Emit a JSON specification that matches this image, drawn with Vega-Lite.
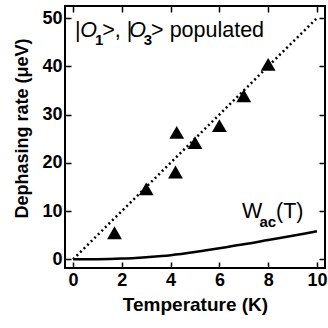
{
  "$schema": "https://vega.github.io/schema/vega-lite/v6.json",
  "width": 260,
  "height": 262,
  "autosize": "none",
  "padding": {"left": 65, "top": 6, "right": 3, "bottom": 60},
  "config": {
    "view": {"stroke": "black", "strokeWidth": 2},
    "font": "Liberation Sans",
    "axis": {
      "domain": false, "grid": false, "tickColor": "black", "tickWidth": 1.5,
      "tickSize": -6, "labelPadding": 9, "labelFont": "Liberation Sans",
      "labelFontWeight": "bold", "labelFontSize": 18, "labelColor": "black",
      "titleFont": "Liberation Sans", "titleFontWeight": "bold", "titleFontSize": 18, "titleColor": "black"
    }
  },
  "datasets": {
    "fit": [{"T": 0, "r": 0}, {"T": 10, "r": 50}],
    "wac": [
      {"T": 0, "r": 0}, {"T": 1, "r": 0.02}, {"T": 2, "r": 0.15}, {"T": 3, "r": 0.45},
      {"T": 4, "r": 0.85}, {"T": 5, "r": 1.5}, {"T": 6, "r": 2.3}, {"T": 7, "r": 3.1},
      {"T": 8, "r": 4.0}, {"T": 9, "r": 4.9}, {"T": 10, "r": 5.8}
    ],
    "pts": [
      {"T": 1.7, "r": 5.5}, {"T": 3.0, "r": 14.6}, {"T": 4.2, "r": 18.1}, {"T": 4.25, "r": 26.3},
      {"T": 5.0, "r": 24.2}, {"T": 6.0, "r": 27.7}, {"T": 7.0, "r": 33.9}, {"T": 8.0, "r": 40.4}
    ],
    "lab": [
      {"T": 0.08, "r": 46.0, "s": "|", "k": "n"},
      {"T": 0.3, "r": 46.0, "s": "O", "k": "i"},
      {"T": 0.9, "r": 44.4, "s": "1", "k": "s"},
      {"T": 1.2, "r": 46.0, "s": ">, |", "k": "n"},
      {"T": 2.3, "r": 46.0, "s": "O", "k": "i"},
      {"T": 2.9, "r": 44.4, "s": "3", "k": "s"},
      {"T": 3.2, "r": 46.0, "s": "> populated", "k": "n"},
      {"T": 6.93, "r": 8.56, "s": "W", "k": "n"},
      {"T": 7.64, "r": 6.7, "s": "ac", "k": "s"},
      {"T": 8.32, "r": 8.56, "s": "(T)", "k": "n"}
    ]
  },
  "layer": [
    {
      "data": {"name": "fit"},
      "mark": {"type": "line", "color": "black", "strokeWidth": 2.5, "strokeDash": [2, 3]},
      "encoding": {
        "x": {"field": "T", "type": "quantitative", "scale": {"domain": [-0.33, 10.33], "nice": false},
              "axis": {"orient": "top", "labels": false, "title": null, "values": [0, 2, 4, 6, 8, 10]}},
        "y": {"field": "r", "type": "quantitative", "scale": {"domain": [-1.8, 52.5], "nice": false},
              "axis": {"orient": "right", "labels": false, "title": null, "values": [0, 10, 20, 30, 40, 50]}}
      }
    },
    {
      "data": {"name": "wac"},
      "mark": {"type": "line", "color": "black", "strokeWidth": 2.5, "interpolate": "monotone"},
      "encoding": {
        "x": {"field": "T", "type": "quantitative", "axis": null},
        "y": {"field": "r", "type": "quantitative", "axis": null}
      }
    },
    {
      "data": {"name": "pts"},
      "mark": {"type": "point", "shape": "triangle-up", "filled": true, "color": "black", "opacity": 1, "size": 220},
      "encoding": {
        "x": {"field": "T", "type": "quantitative",
              "axis": {"orient": "bottom", "title": "Temperature (K)", "values": [0, 2, 4, 6, 8, 10], "titlePadding": 6, "titleFontSize": 19}},
        "y": {"field": "r", "type": "quantitative",
              "axis": {"orient": "left", "title": "Dephasing rate (μeV)", "values": [0, 10, 20, 30, 40, 50], "titleX": -34, "titleY": 122}}
      }
    },
    {
      "data": {"name": "lab"},
      "transform": [{"filter": "datum.k == 'n'"}],
      "mark": {"type": "text", "align": "left", "baseline": "alphabetic", "fontSize": 21.5, "color": "black"},
      "encoding": {
        "x": {"field": "T", "type": "quantitative", "axis": null},
        "y": {"field": "r", "type": "quantitative", "axis": null},
        "text": {"field": "s"}
      }
    },
    {
      "data": {"name": "lab"},
      "transform": [{"filter": "datum.k == 'i'"}],
      "mark": {"type": "text", "align": "left", "baseline": "alphabetic", "fontSize": 21.5, "fontStyle": "italic", "color": "black"},
      "encoding": {
        "x": {"field": "T", "type": "quantitative", "axis": null},
        "y": {"field": "r", "type": "quantitative", "axis": null},
        "text": {"field": "s"}
      }
    },
    {
      "data": {"name": "lab"},
      "transform": [{"filter": "datum.k == 's'"}],
      "mark": {"type": "text", "align": "left", "baseline": "alphabetic", "fontSize": 15, "fontWeight": "bold", "color": "black"},
      "encoding": {
        "x": {"field": "T", "type": "quantitative", "axis": null},
        "y": {"field": "r", "type": "quantitative", "axis": null},
        "text": {"field": "s"}
      }
    }
  ],
  "resolve": {"axis": {"x": "independent", "y": "independent"}}
}
